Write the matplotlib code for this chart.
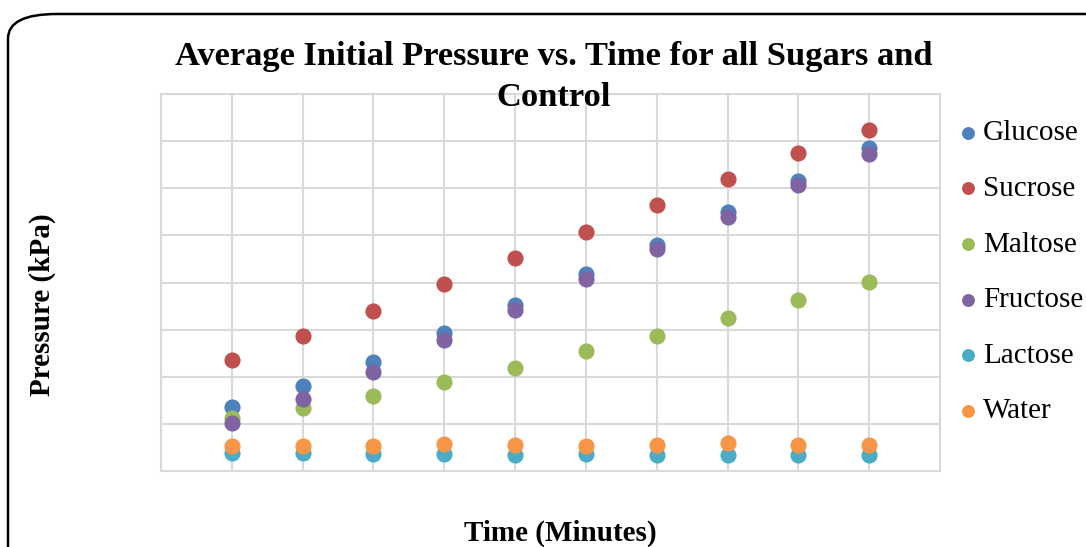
import matplotlib.pyplot as plt
from matplotlib.patches import FancyBboxPatch

# time points (minutes) and pressure readings (grid units)
time_min = [1, 2, 3, 4, 5, 6, 7, 8, 9, 10]
glucose = [1.35, 1.80, 2.32, 2.93, 3.53, 4.17, 4.80, 5.49, 6.16, 6.86]
sucrose = [2.35, 2.86, 3.40, 3.96, 4.53, 5.08, 5.64, 6.20, 6.74, 7.24]
maltose = [1.12, 1.33, 1.60, 1.89, 2.19, 2.55, 2.86, 3.25, 3.63, 4.01]
fructose = [1.02, 1.53, 2.11, 2.77, 3.41, 4.08, 4.72, 5.39, 6.06, 6.73]
lactose = [0.38, 0.38, 0.37, 0.37, 0.35, 0.37, 0.35, 0.35, 0.35, 0.35]
water = [0.52, 0.54, 0.54, 0.57, 0.56, 0.54, 0.56, 0.59, 0.56, 0.56]

names = ['Glucose', 'Sucrose', 'Maltose', 'Fructose', 'Lactose', 'Water']
series = [glucose, sucrose, maltose, fructose, lactose, water]
colors = ['#4F81BD', '#C0504D', '#9BBB59', '#8064A2', '#4BACC6', '#F79646']

plt.rcParams['font.family'] = ['Liberation Serif', 'DejaVu Serif']

fig = plt.figure(figsize=(10.86, 5.47), dpi=100)

# rounded chart border, runs off the right and bottom edge
box = FancyBboxPatch((8 / 1086, -0.2), 1.2, (547 - 14) / 547 + 0.2,
                     boxstyle='round,pad=0,rounding_size=0.045',
                     transform=fig.transFigure, fill=False,
                     edgecolor='black', linewidth=1.8, clip_on=False)
fig.patches.append(box)

ax = fig.add_axes([161 / 1086, 1 - 471 / 547, (940 - 161) / 1086, (471 - 94) / 547])

for name, vals, c in zip(names, series, colors):
    ax.scatter(time_min, vals, s=135, color=c, label=name, zorder=3, linewidths=0)

ax.set_xlim(0, 11)
ax.set_ylim(0, 8)
ax.set_xticks(range(0, 12))
ax.set_yticks(range(0, 9))
ax.tick_params(length=0, labelbottom=False, labelleft=False)
ax.grid(True, color='#D9D9D9', linewidth=1.5)
for sp in ax.spines.values():
    sp.set_color('#D9D9D9')
    sp.set_linewidth(1.5)
ax.set_axisbelow(True)

fig.text(554 / 1086, 1 - 77 / 547,
         'Average Initial Pressure vs. Time for all Sugars and\nControl',
         ha='center', va='center', fontsize=24.8, fontweight='bold',
         linespacing=1.4)
fig.text(42 / 1086, 1 - 305 / 547, 'Pressure (kPa)', rotation=90,
         ha='center', va='center', fontsize=21, fontweight='bold')
fig.text(560 / 1086, 1 - 533 / 547, 'Time (Minutes)',
         ha='center', va='center', fontsize=21, fontweight='bold')

fig.legend(loc='upper left', bbox_to_anchor=(945 / 1086, 1 - 120 / 547),
           frameon=False, fontsize=21, markerscale=0.8, handletextpad=-0.3,
           handlelength=1.6, labelspacing=1.0, borderpad=0, borderaxespad=0)

fig.savefig('out.png', dpi=100)
